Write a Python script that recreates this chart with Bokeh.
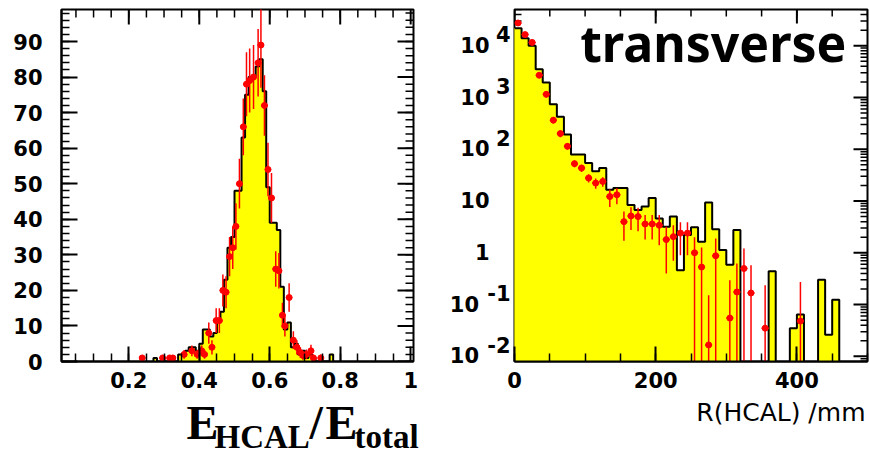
import math

from bokeh.core.properties import value
from bokeh.embed import file_html
from bokeh.layouts import column, row
from bokeh.models import FixedTicker, Label, LogAxis, Range1d
from bokeh.plotting import figure
from bokeh.resources import INLINE

YELLOW = "#ffff00"
RED = "#ff0000"
TICK_FONT = "DejaVu Sans"

# ---------------- E_HCAL / E_total (0.01 wide bins from 0.27) ----------------
ratio_first_edge = 0.27
ratio_bin_width = 0.01
ratio_counts = [1, 0, 0, 0, 0, 0, 0, 2, 2, 3, 4, 4, 3, 5, 9, 9, 7, 8, 12, 14,
                23, 32, 35, 48, 48, 63, 75, 80, 80, 83, 85, 76, 49, 39, 39, 37,
                21, 9, 11, 4, 5, 2, 3, 1, 2, 1, 0, 0, 0, 0, 2]

ratio_points_x = [0.238, 0.296, 0.316, 0.325, 0.357, 0.379, 0.394, 0.407, 0.415,
                  0.427, 0.436, 0.448, 0.457, 0.467, 0.476, 0.486, 0.495, 0.504,
                  0.514, 0.525, 0.534, 0.543, 0.554, 0.567, 0.575, 0.585, 0.595,
                  0.605, 0.617, 0.626, 0.636, 0.643, 0.655, 0.667, 0.677, 0.687,
                  0.694, 0.704, 0.717, 0.724, 0.745]
ratio_points_y = [1, 1, 1, 1, 2, 3, 2, 3, 2, 8, 4, 11.5, 11.5, 20, 19.5, 29.5, 32,
                  38, 50, 66, 78, 79, 80, 84, 89, 72, 54, 46, 26, 25.5, 13, 10, 18,
                  6, 4, 2.5, 1.7, 2, 3, 1, 1]
ratio_points_err = [0.8, 0.8, 0.8, 0.8, 1.2, 1.5, 1.2, 1.5, 1.2, 3, 2, 3.5, 3.5,
                    4.5, 4.5, 5.5, 6, 6.5, 7, 8, 9, 9, 9, 9.5, 12, 8.5, 7.5, 7, 5,
                    5, 3.5, 3, 4, 2.5, 2, 1.5, 1.2, 1.4, 1.7, 1, 1]

ratio_major_ticks = [0.2, 0.4, 0.6, 0.8, 1.0]
ratio_tick_labels = ["0.2", "0.4", "0.6", "0.8", "1"]
count_major_ticks = [0, 10, 20, 30, 40, 50, 60, 70, 80, 90]

# ---------------- transverse radius (10 mm bins from 0) ----------------
radius_bin_width = 10
radius_counts = [21700, 13900, 10000, 3520, 1940, 737, 424, 193, 78.8, 78.8,
                 54.3, 37.4, 43.4, 16.5, 17.8, 17.8, 8.4, 6.7, 7.8, 11.4,
                 4.6, 3.2, 5.0, 0.46, 2.2, 3.1, 1.64, 9.4, 2.84, 1.13,
                 0.59, 2.75, 0, 0, 0, 0, 0.44, 0, 0, 0.035,
                 0.064, 0, 0, 0.30, 0.026, 0.124]

radius_points_bin = [0, 1, 2, 3, 4, 5, 6, 7, 8, 9, 10, 11, 12, 13, 14, 15, 16, 17,
                     18, 19, 20, 21, 22, 23, 24, 25, 26, 27, 28, 30, 31, 32, 33, 35, 40]
radius_points_y = [27500, 16400, 11600, 2690, 1150, 365, 201, 114, 52.7, 43.4,
                   27.8, 22.2, 23.9, 12.2, 13.2, 4.0, 5.15, 5.0, 3.6, 3.6,
                   3.4, 1.8, 2.05, 2.4, 2.4, 1.0, 0.53, 0.0166, 0.875, 0.0547,
                   0.175, 0.497, 0.167, 0.035, 0.048]
radius_points_err = [1500, 1100, 900, 300, 150, 50, 30, 15, 8, 7,
                     5, 5, 5, 4.5, 4.5, 2.3, 2.4, 2.4, 1.8, 1.8,
                     2.0, 1.4, 1.35, 1.5, 1.5, 1.0, 0.74, 0.135, 1.02, 0.24,
                     0.445, 0.72, 0.41, 0.2, 0.225]

radius_major_ticks = [0, 200, 400]
radius_decades = [-2, -1, 0, 1, 2, 3, 4]
radius_decade_labels = ["10\u2002", "10\u2002", "1", "10", "10", "10", "10"]
radius_decade_exps = ["-2", "-1", "", "", "2", "3", "4"]

PANEL_H = 396      # height of each histogram panel; the titles strip fills the rest
BOTTOM = 35        # room under each frame for the tick labels


def frame_axis(ax, major_in, minor_in, standoff):
    ax.axis_line_color = "black"
    ax.axis_line_width = 2
    ax.major_tick_in = major_in
    ax.major_tick_out = 0
    ax.minor_tick_in = minor_in
    ax.minor_tick_out = 0
    ax.major_tick_line_width = 2
    ax.minor_tick_line_width = 1.5
    ax.major_tick_line_color = "black"
    ax.minor_tick_line_color = "black"
    ax.major_label_standoff = standoff
    ax.major_label_text_font = TICK_FONT
    ax.major_label_text_font_style = "bold"
    ax.major_label_text_font_size = "21px"
    ax.major_label_text_color = "black"


def edge_ticks(p, xs, ys, length, angle):
    # inward tick marks drawn from a frame edge
    p.ray(x=xs, y=ys, length=length, length_units="screen", angle=angle,
          line_color="black", line_width=2 if length > 10 else 1.5)


# ======================= left panel =======================
x1_lo, x1_hi, y1_lo, y1_hi = 0.009, 1.008, 0, 99
p1 = figure(width=435, height=PANEL_H, x_range=Range1d(x1_lo, x1_hi),
            y_range=Range1d(y1_lo, y1_hi), output_backend="svg",
            toolbar_location=None, min_border_left=61, min_border_right=22,
            min_border_top=9, min_border_bottom=BOTTOM)
p1.grid.visible = False
p1.outline_line_color = "black"
p1.outline_line_width = 2

ratio_minor = [round(0.05 * i, 2) for i in range(1, 20)]
count_minor = [2 * i for i in range(0, 50)]

xa = p1.xaxis[0]
xa.ticker = FixedTicker(ticks=ratio_major_ticks, minor_ticks=ratio_minor)
xa.major_label_overrides = {t: s for t, s in zip(ratio_major_ticks, ratio_tick_labels)}
frame_axis(xa, 15, 8, 10)
ya = p1.yaxis[0]
ya.ticker = FixedTicker(ticks=count_major_ticks, minor_ticks=count_minor)
frame_axis(ya, 16, 8, 19)

edge_ticks(p1, ratio_major_ticks, [y1_hi] * 5, 15, -math.pi / 2)
edge_ticks(p1, ratio_minor, [y1_hi] * len(ratio_minor), 8, -math.pi / 2)
edge_ticks(p1, [x1_hi] * 10, count_major_ticks, 16, math.pi)
edge_ticks(p1, [x1_hi] * len(count_minor), count_minor, 8, math.pi)

n1 = len(ratio_counts)
r_left = [ratio_first_edge + i * ratio_bin_width for i in range(n1)]
r_right = [x + ratio_bin_width for x in r_left]
p1.quad(left=r_left, right=r_right, bottom=0, top=ratio_counts,
        fill_color=YELLOW, line_color=YELLOW, line_width=1)
p1.step(x=[r_left[0]] + r_left + [r_right[-1]], y=[0] + ratio_counts + [0],
        mode="after", line_color="black", line_width=2)

p1.segment(x0=ratio_points_x,
           y0=[max(y - e, 0) for y, e in zip(ratio_points_y, ratio_points_err)],
           x1=ratio_points_x,
           y1=[y + e for y, e in zip(ratio_points_y, ratio_points_err)],
           line_color=RED, line_width=1.5)
p1.segment(x0=[x - 0.009 for x in ratio_points_x], y0=ratio_points_y,
           x1=[x + 0.009 for x in ratio_points_x], y1=ratio_points_y,
           line_color=RED, line_width=1.5)
p1.scatter(ratio_points_x, ratio_points_y, size=6, color=RED)

# ======================= right panel =======================
x2_lo, x2_hi = 0, 500
y2_lo, y2_hi = 10 ** -2.1, 10 ** 4.7
exp_shift = 0.22   # decades the exponent labels sit above their "10"
p2 = figure(width=435, height=PANEL_H, x_range=Range1d(x2_lo, x2_hi),
            y_range=Range1d(y2_lo, y2_hi), y_axis_type="log",
            output_backend="svg", toolbar_location=None,
            min_border_left=79, min_border_right=3, min_border_top=9,
            min_border_bottom=BOTTOM)
p2.extra_y_ranges = {"exp": Range1d(y2_lo * 10 ** -exp_shift, y2_hi * 10 ** -exp_shift)}
p2.grid.visible = False
p2.outline_line_color = "black"
p2.outline_line_width = 2

radius_minor = [50 * i for i in range(0, 11)]
decade_ticks = [10.0 ** k for k in radius_decades]
decade_minor = [m * 10.0 ** k for k in range(-3, 5) for m in range(2, 10)]
decade_minor = [v for v in decade_minor if y2_lo < v < y2_hi]

xa2 = p2.xaxis[0]
xa2.ticker = FixedTicker(ticks=radius_major_ticks, minor_ticks=radius_minor)
frame_axis(xa2, 15, 8, 10)

# inner left axis: the exponents
exp_ticks = [t for t, e in zip(decade_ticks, radius_decade_exps) if e]
exp_axis = p2.yaxis[0]
exp_axis.y_range_name = "exp"
exp_axis.ticker = FixedTicker(ticks=exp_ticks, minor_ticks=[])
exp_axis.major_label_overrides = {t: e for t, e in zip(decade_ticks, radius_decade_exps) if e}
frame_axis(exp_axis, 0, 0, 4)
exp_axis.axis_line_color = None
exp_axis.major_tick_line_color = None
exp_axis.minor_tick_line_color = None

# outer left axis: the mantissas
base_axis = LogAxis(ticker=FixedTicker(ticks=decade_ticks, minor_ticks=[]))
base_axis.major_label_overrides = {t: s for t, s in zip(decade_ticks, radius_decade_labels)}
frame_axis(base_axis, 0, 0, -5)
base_axis.axis_line_color = None
base_axis.major_tick_line_color = None
base_axis.minor_tick_line_color = None
p2.add_layout(base_axis, "left")

edge_ticks(p2, [x2_lo] * 7, decade_ticks, 13, 0)
edge_ticks(p2, [x2_lo] * len(decade_minor), decade_minor, 7, 0)
edge_ticks(p2, [x2_hi] * 7, decade_ticks, 14, math.pi)
edge_ticks(p2, [x2_hi] * len(decade_minor), decade_minor, 7, math.pi)
edge_ticks(p2, radius_major_ticks, [y2_hi] * 3, 14, -math.pi / 2)
edge_ticks(p2, radius_minor, [y2_hi] * len(radius_minor), 7, -math.pi / 2)

floor = 1e-4
n2 = len(radius_counts)
b_left = [i * radius_bin_width for i in range(n2)]
b_right = [x + radius_bin_width for x in b_left]
b_top = [max(c, floor) for c in radius_counts]
p2.quad(left=b_left, right=b_right, bottom=floor, top=b_top,
        fill_color=YELLOW, line_color=YELLOW, line_width=1)
p2.step(x=b_left + [b_right[-1]], y=b_top + [floor], mode="after",
        line_color="black", line_width=2)

px2 = [(b + 0.5) * radius_bin_width for b in radius_points_bin]
p2.segment(x0=px2,
           y0=[max(y - e, floor) for y, e in zip(radius_points_y, radius_points_err)],
           x1=px2,
           y1=[y + e for y, e in zip(radius_points_y, radius_points_err)],
           line_color=RED, line_width=1.5)
p2.segment(x0=[x - 5 for x in px2], y0=radius_points_y,
           x1=[x + 5 for x in px2], y1=radius_points_y,
           line_color=RED, line_width=1.5)
p2.scatter(px2, radius_points_y, size=6, color=RED)

p2.add_layout(Label(x=93, y=10 ** 4.05, text="transverse", text_font="Noto Sans",
                    text_font_style="bold", text_font_size="50px",
                    text_color="black", text_baseline="alphabetic",
                    text_align="left"))

# ======================= axis titles strip =======================
cap = figure(width=870, height=457 - PANEL_H, x_range=Range1d(0, 870),
             y_range=Range1d(457, PANEL_H), output_backend="svg",
             toolbar_location=None, x_axis_type=None, y_axis_type=None,
             min_border=0)
cap.outline_line_color = None
cap.grid.visible = False

title_parts = [("E", 186, 422, "48px"), ("HCAL", 214, 436, "33px"),
               ("/", 309, 422, "48px"), ("E", 325, 422, "48px"),
               ("total", 354, 436, "33px")]
for txt, tx, ty, fs in title_parts:
    cap.text(x=[tx], y=[ty], text=[txt], text_font=value("Liberation Serif"),
             text_font_style="bold", text_font_size=value(fs),
             text_color="black", text_baseline="alphabetic", text_align="left")
cap.text(x=[865], y=[412], text=["R(HCAL) /mm"], text_font=value(TICK_FONT),
         text_font_size=value("25px"), text_color="black",
         text_baseline="alphabetic", text_align="right")

layout = column(row(p1, p2), cap)
open("out.html", "w").write(file_html(layout, INLINE))
